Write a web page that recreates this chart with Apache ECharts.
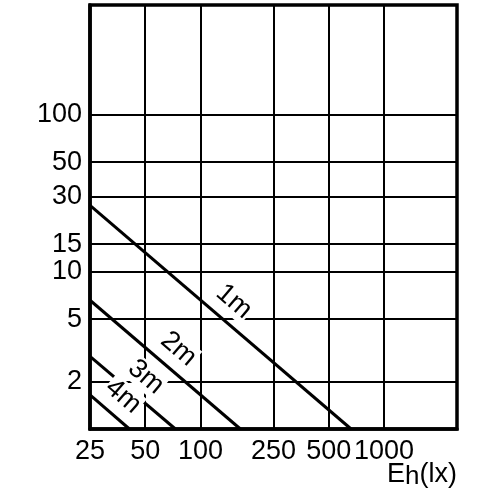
<!DOCTYPE html>
<html lang="en">
<head>
<meta charset="utf-8">
<title>Eh - mounting height</title>
<script src="https://cdn.jsdelivr.net/npm/echarts@6/dist/echarts.min.js"></script>
<style>
  html, body { margin: 0; padding: 0; background: #fff; }
  #chart { width: 496px; height: 496px; }
</style>
</head>
<body>
<div id="chart"></div>
<script>
  // one straight line per distance: value at 25 lx, and the lux where it falls to 1
  var distances = ['1m', '2m', '3m', '4m'];
  var valueAt25 = [26.5, 6.6, 2.9, 1.65];
  var luxAtOne = [662, 165, 73, 41];

  var xTicks = [25, 50, 100, 250, 500, 1000];
  var yTicks = [2, 5, 10, 15, 30, 50, 100];

  var font = 'Liberation Sans, Arial, sans-serif';
  var chart = echarts.init(document.getElementById('chart'));

  var series = distances.map(function (name, i) {
    var start = [xTicks[0], valueAt25[i]];
    var end = [luxAtOne[i], 1];
    return {
      name: name,
      type: 'line',
      data: [start, end],
      showSymbol: false,
      silent: true,
      z: 3,
      lineStyle: { color: '#000', width: 3 },
      markLine: {
        silent: true,
        symbol: 'none',
        lineStyle: { color: 'rgba(0,0,0,0)', width: 1 },
        label: {
          show: true,
          position: 'insideMiddleTop',
          distance: 7,
          formatter: name,
          color: '#000',
          fontFamily: font,
          fontSize: 27,
          backgroundColor: '#fff',
          padding: [0, 1]
        },
        data: [[{ coord: start }, { coord: end }]]
      }
    };
  });

  var option = {
    animation: false,
    backgroundColor: '#fff',
    // x axis unit, sits under the tick labels at the right
    title: {
      text: '{e|E}{h|h}{e|(lx)}',
      right: 39,
      top: 461,
      padding: 0,
      textStyle: {
        fontWeight: 'normal',
        rich: {
          e: { fontFamily: font, fontSize: 27, fontWeight: 'normal', color: '#000', verticalAlign: 'top', lineHeight: 28 },
          h: { fontFamily: font, fontSize: 26, fontWeight: 'normal', color: '#000', lineHeight: 28, padding: [4, 0, 0, 0] }
        }
      }
    },
    grid: {
      left: 90, right: 39, top: 5, bottom: 67,
      show: true, borderColor: '#000', borderWidth: 3.5
    },
    xAxis: {
      type: 'log',
      logBase: 10,
      min: 25,
      max: 2500,
      axisLine: { show: true, lineStyle: { color: '#000', width: 3.5 } },
      axisTick: { show: false, customValues: xTicks },
      splitLine: { show: true, lineStyle: { color: '#000', width: 2 } },
      axisLabel: {
        customValues: xTicks,
        margin: 9,
        color: '#000',
        fontFamily: font,
        fontSize: 27,
        formatter: function (v) { return String(Math.round(v)); }
      }
    },
    yAxis: {
      type: 'log',
      logBase: 10,
      min: 1,
      max: 500,
      axisLine: { show: true, lineStyle: { color: '#000', width: 3.5 } },
      axisTick: { show: false, customValues: yTicks },
      splitLine: { show: true, lineStyle: { color: '#000', width: 2 } },
      axisLabel: {
        customValues: yTicks,
        margin: 8,
        color: '#000',
        fontFamily: font,
        fontSize: 27,
        formatter: function (v) { return String(Math.round(v)); }
      }
    },
    series: series
  };
  chart.setOption(option);
</script>
</body>
</html>
